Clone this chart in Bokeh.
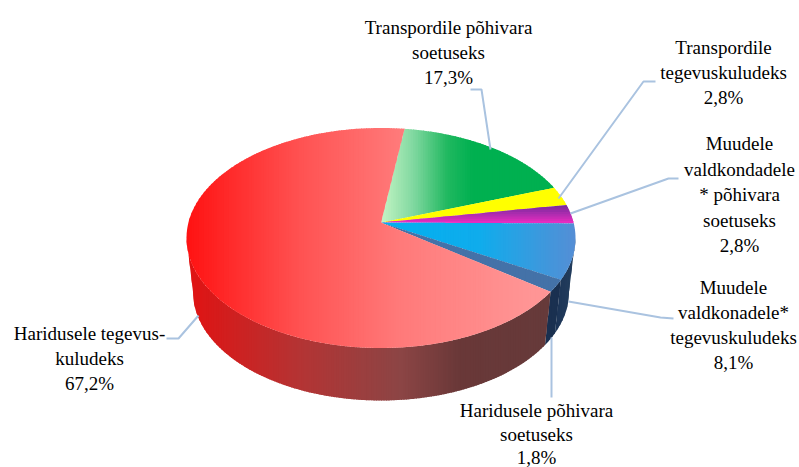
import numpy as np
from bokeh.core.properties import value
from bokeh.embed import file_html
from bokeh.models import ColumnDataSource, Range1d
from bokeh.plotting import figure
from bokeh.resources import INLINE

# ---- data -----
categories = [
    "Transpordile põhivara soetuseks",
    "Transpordile tegevuskuludeks",
    "Muudele valdkondadele * põhivara soetuseks",
    "Muudele valdkonadele* tegevuskuludeks",
    "Haridusele põhivara soetuseks",
    "Haridusele tegevuskuludeks",
]
shares = [17.3, 2.8, 2.8, 8.1, 1.8, 67.2]
label_lines = [
    ["Transpordile põhivara", "soetuseks"],
    ["Transpordile", "tegevuskuludeks"],
    ["Muudele", "valdkondadele", "* põhivara", "soetuseks"],
    ["Muudele", "valdkonadele*", "tegevuskuludeks"],
    ["Haridusele põhivara", "soetuseks"],
    ["Haridusele tegevus-", "kuludeks"],
]

# ---- layout / style -----
W, H = 799, 467
X0, Y0 = 0, 0
CX, CY, RX, RY = 380.5, 237.5, 194.5, 110.0
BCX, BCY, BRX, BRY = 380.5, 291.5, 188.0, 108.5
TILT = 0.14
START = 82.0
STRIP = 2.5

label_anchor = [(448, 27), (723, 47), (739, 143), (733, 287), (536, 410), (89, 333)]
label_step = [25, 25, 25.5, 25, 23.5, 25]
leaders = [
    [(470, 89), (481, 89), (490, 149)],
    [(655, 81), (643, 81), (558, 198)],
    [(678, 178), (668, 178), (570, 213)],
    [(673, 318), (660, 317), (568, 301)],
    [(551, 397), (551, 337)],
    [(166, 338), (178, 338), (198, 315)],
]
top_grad = [
    ("x", [(381, "#C4F4C4"), (413, "#80D8A0"), (447, "#20B860"), (472, "#00B050")]),
    ("x", [(381, "#FFFF00"), (570, "#FFFF00")]),
    ("y", [(205, "#7A2A9C"), (214, "#B02CB0"), (224, "#F52CC4")]),
    ("x", [(381, "#00B0F0"), (480, "#10ACEC"), (575, "#558ED5")]),
    ("x", [(381, "#4472A8"), (560, "#4472A8")]),
    ("x", [(186, "#FF1212"), (300, "#FF5252"), (400, "#FF7A7A"), (530, "#FF9595")]),
]
side_grad = [
    [(380, "#203858"), (580, "#203858")],
    [(380, "#203858"), (580, "#203858")],
    [(380, "#203858"), (580, "#203858")],
    [(556, "#1C3456"), (575, "#24405E")],
    [(546, "#1A3050"), (560, "#1A3050")],
    [(186, "#E21212"), (300, "#B43434"), (400, "#8C4545"), (460, "#693838"), (550, "#663A3A")],
]


def hex2rgb(c):
    return np.array([int(c[i:i + 2], 16) for i in (1, 3, 5)], float)


def ramp(stops, v):
    xs = [s[0] for s in stops]
    cols = np.array([hex2rgb(s[1]) for s in stops])
    rgb = [np.interp(v, xs, cols[:, i]) for i in range(3)]
    return "#%02X%02X%02X" % tuple(int(round(c)) for c in rgb)


def persp(theta):
    """true pie angle (deg) -> parameter angle (rad) on the tilted ellipse"""
    th = np.radians(theta)
    x, y = np.cos(th), np.sin(th)
    d = 1 + TILT * y
    return np.arctan2((y + TILT) / d, x * np.sqrt(1 - TILT ** 2) / d)


def clip(poly, axis, lo, hi):
    def half(pts, sign, lim):
        out = []
        n = len(pts)
        for i in range(n):
            a, b = pts[i], pts[(i + 1) % n]
            da, db = sign * (a[axis] - lim), sign * (b[axis] - lim)
            if da >= 0:
                out.append(a)
            if da * db < 0:
                f = da / (da - db)
                out.append((a[0] + f * (b[0] - a[0]), a[1] + f * (b[1] - a[1])))
        return out
    p = half(poly, 1, lo)
    return half(p, -1, hi) if p else p


def strips(poly, axis, stops, out):
    vals = [q[axis] for q in poly]
    lo, hi = min(vals), max(vals)
    n = max(1, int(np.ceil((hi - lo) / STRIP)))
    edges = np.linspace(lo, hi, n + 1)
    for a, b in zip(edges[:-1], edges[1:]):
        piece = clip(poly, axis, a, b + 1.0)
        if len(piece) >= 3:
            out["xs"].append([q[0] for q in piece])
            out["ys"].append([q[1] for q in piece])
            out["c"].append(ramp(stops, (a + b) / 2))


# cumulative angles from the values
total = sum(shares)
bounds = [START]
for s in shares:
    bounds.append(bounds[-1] - s / total * 360)

p = figure(width=W, height=H, output_backend="svg", toolbar_location=None,
           x_range=Range1d(X0, X0 + W), y_range=Range1d(Y0 + H, Y0),
           min_border=0, outline_line_color=None, background_fill_color="white",
           border_fill_color="white")
p.axis.visible = False
p.grid.visible = False

# side walls
side = {"xs": [], "ys": [], "c": []}
for i in range(len(shares)):
    t1 = persp(bounds[i])
    t2 = persp(bounds[i + 1])
    if i == len(shares) - 1:
        a, b = t1, -np.pi
    else:
        a, b = min(t1, 0.0), t2
    if b >= a:
        continue
    ts = np.linspace(a, b, 90)
    poly = [(CX + RX * np.cos(t), CY - RY * np.sin(t)) for t in ts]
    poly += [(BCX + BRX * np.cos(t), BCY - BRY * np.sin(t)) for t in ts[::-1]]
    strips(poly, 0, side_grad[i], side)
p.patches("xs", "ys", source=ColumnDataSource(side), fill_color="c", line_color=None)

# top faces
top = {"xs": [], "ys": [], "c": []}
ax, ay = CX, CY - RY * TILT
for i in range(len(shares)):
    th = np.linspace(bounds[i], bounds[i + 1], 120)
    ts = persp(th)
    poly = [(ax, ay)] + [(CX + RX * np.cos(t), CY - RY * np.sin(t)) for t in ts]
    axis_name, stops = top_grad[i]
    strips(poly, 0 if axis_name == "x" else 1, stops, top)
p.patches("xs", "ys", source=ColumnDataSource(top), fill_color="c", line_color=None)

# leaders
p.multi_line([[q[0] for q in l] for l in leaders], [[q[1] for q in l] for l in leaders],
             line_color="#AAC3E0", line_width=2)

# labels
tx, ty, tt = [], [], []
for lines, share, (lx, ly), step in zip(label_lines, shares, label_anchor, label_step):
    rows = lines + [f"{share:.1f}".replace(".", ",") + "%"]
    for k, row in enumerate(rows):
        tx.append(lx)
        ty.append(ly + k * step)
        tt.append(row)
p.text(tx, ty, text=tt, text_font=value("Liberation Serif"), text_font_size="19px",
       text_color="#000000", text_align="center", text_baseline="middle")

open("out.html", "w").write(file_html(p, INLINE))
